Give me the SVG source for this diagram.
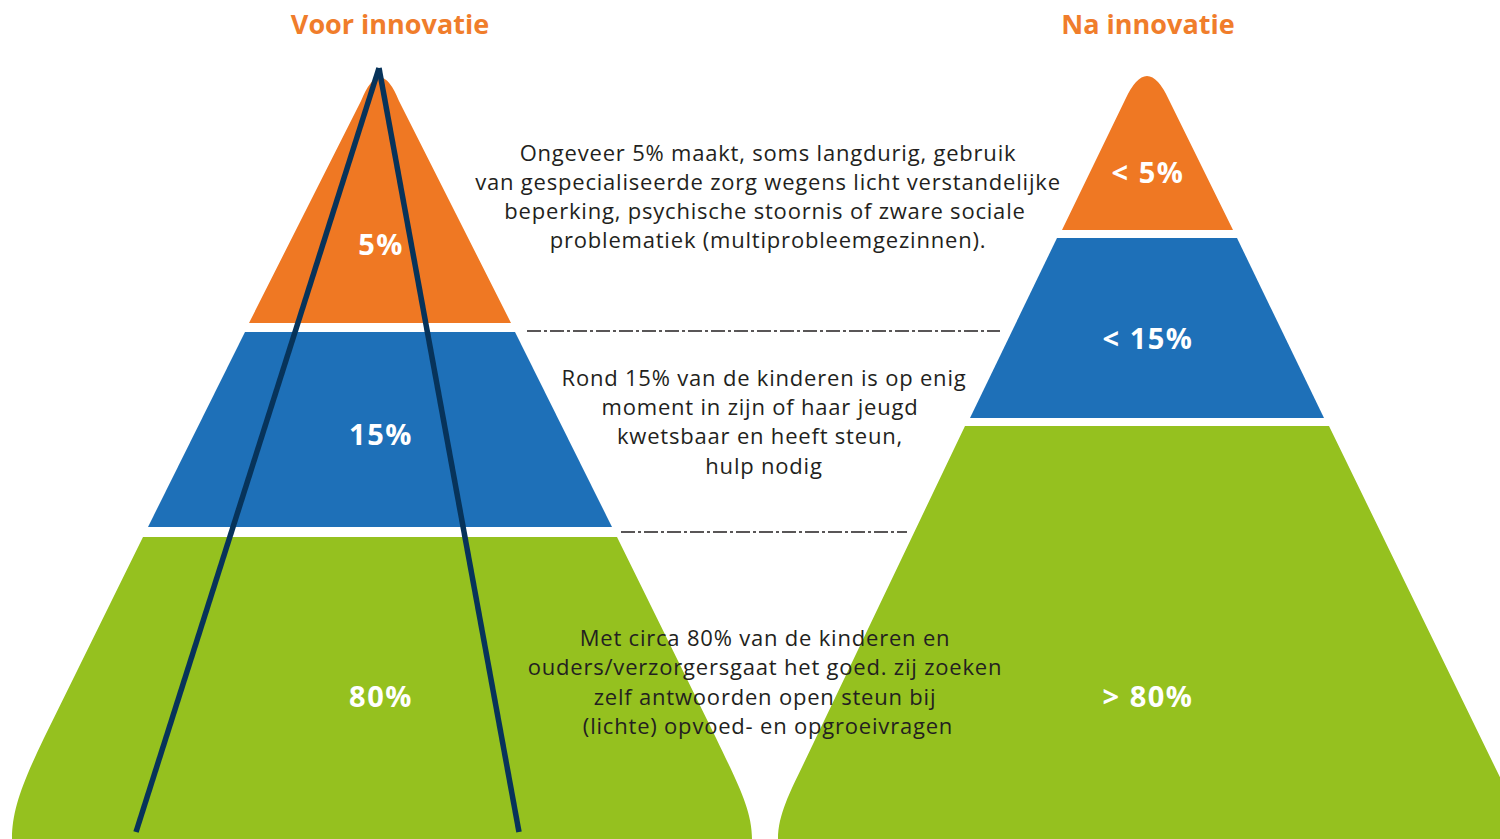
<svg xmlns="http://www.w3.org/2000/svg" width="1500" height="839" viewBox="0 0 1500 839">
<style>
.title{font-family:"Open Sans","Liberation Sans",sans-serif;font-weight:bold;font-size:27px;fill:#F07D2B;text-anchor:middle}
.pct{font-family:"Open Sans","Liberation Sans",sans-serif;font-weight:bold;font-size:29px;fill:#ffffff;text-anchor:middle;letter-spacing:1.5px}
.body{font-family:"Open Sans","Liberation Sans",sans-serif;font-size:22px;fill:#231F20;text-anchor:middle;letter-spacing:0.8px}
.orange{fill:#EF7823}
.blue{fill:#1E70B8}
.green{fill:#95C11F}
.dash{stroke:#231F20;stroke-width:1.6;fill:none;stroke-dasharray:14 3 3 3}
.navy{stroke:#07335A;stroke-width:5.5;fill:none}
</style>
<rect width="1500" height="839" fill="#ffffff"/>
<text class="title" x="390" y="34">Voor innovatie</text>
<text class="title" x="1148" y="34">Na innovatie</text>

<g id="left-pyramid">
  <g id="left-top">
    <path class="orange" d="M249,323 L361,101 Q380,54 399,101 L511,323 Z"/>
    <text class="pct" x="381" y="255">5%</text>
  </g>
  <g id="left-mid">
    <path class="blue" d="M245,332 L515,332 L612,527 L148,527 Z"/>
    <text class="pct" x="381" y="445">15%</text>
  </g>
  <g id="left-bottom">
    <path class="green" d="M143,537 L617,537 L716,738 C738,784 752,810 752,839 L12,839 C12,810 22,784 44,738 Z"/>
    <text class="pct" x="381" y="707">80%</text>
  </g>
</g>

<g id="right-pyramid">
  <g id="right-top">
    <path class="orange" d="M1062,230 L1125,100 Q1147,52 1169,100 L1233,230 Z"/>
    <text class="pct" x="1148" y="183">&lt; 5%</text>
  </g>
  <g id="right-mid">
    <path class="blue" d="M1057,238 L1237,238 L1324,418 L970,418 Z"/>
    <text class="pct" x="1148" y="349">&lt; 15%</text>
  </g>
  <g id="right-bottom">
    <path class="green" d="M965,426 L1329,426 L1530,839 L778,839 C778,815 790,792 803,765 Z"/>
    <text class="pct" x="1148" y="707">&gt; 80%</text>
  </g>
</g>

<g id="desc-top">
  <text class="body" x="768" y="161">Ongeveer 5% maakt, soms langdurig, gebruik</text>
  <text class="body" x="768" y="190">van gespecialiseerde zorg wegens licht verstandelijke</text>
  <text class="body" x="765" y="219">beperking, psychische stoornis of zware sociale</text>
  <text class="body" x="768" y="248">problematiek (multiprobleemgezinnen).</text>
</g>
<g id="desc-mid">
  <text class="body" x="764" y="386">Rond 15% van de kinderen is op enig</text>
  <text class="body" x="760" y="415">moment in zijn of haar jeugd</text>
  <text class="body" x="760" y="444">kwetsbaar en heeft steun,</text>
  <text class="body" x="764" y="474">hulp nodig</text>
</g>
<g id="desc-bottom">
  <text class="body" x="765" y="646">Met circa 80% van de kinderen en</text>
  <text class="body" x="765" y="675">ouders/verzorgersgaat het goed. zij zoeken</text>
  <text class="body" x="765" y="705">zelf antwoorden open steun bij</text>
  <text class="body" x="768" y="734">(lichte) opvoed- en opgroeivragen</text>
</g>

<g id="connectors">
  <line class="dash" x1="527" y1="331" x2="1000" y2="331"/>
  <line class="dash" x1="621" y1="532" x2="907" y2="532"/>
  <line class="navy" x1="379" y1="68" x2="136" y2="832"/>
  <line class="navy" x1="379" y1="68" x2="519" y2="832"/>
</g>
</svg>
